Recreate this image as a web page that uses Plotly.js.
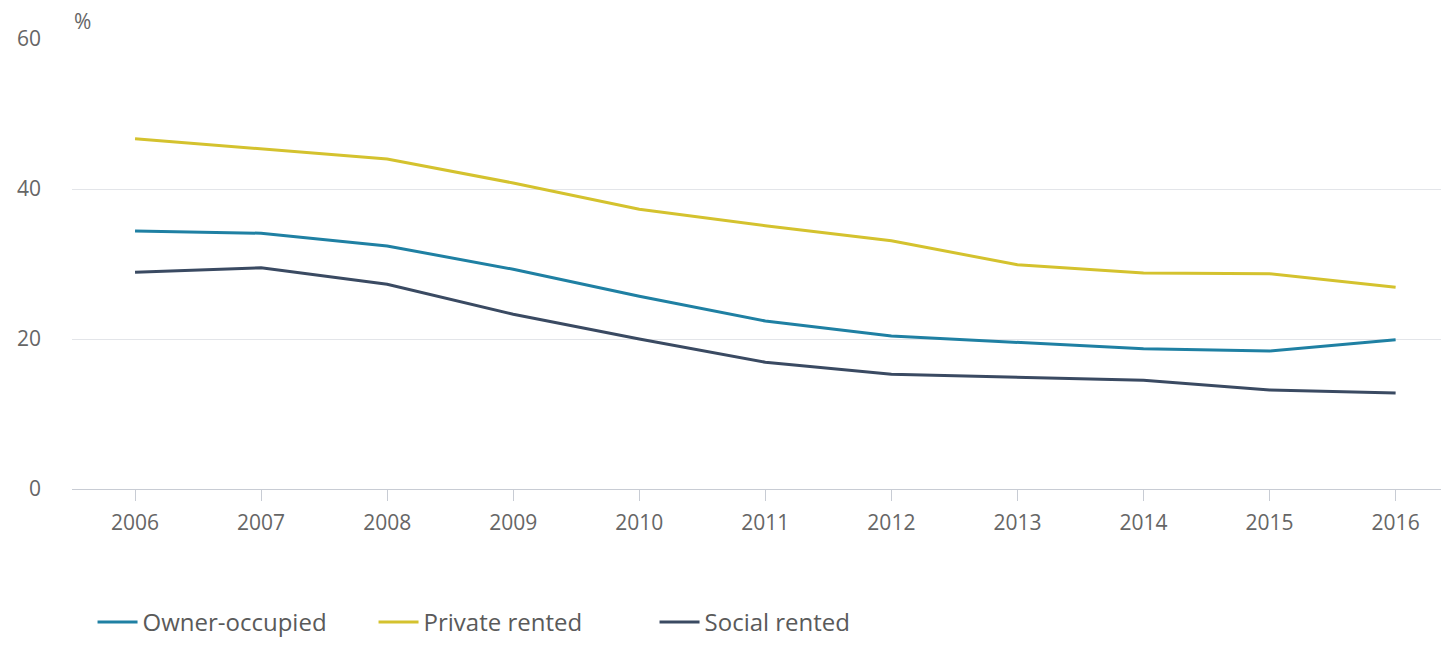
<!DOCTYPE html>
<html>
<head>
<meta charset="utf-8">
<script src="https://cdn.plot.ly/plotly-3.0.1.min.js"></script>
<style>
html,body{margin:0;padding:0;background:#fff;}
#chart{width:1441px;height:645px;}
</style>
</head>
<body>
<div id="chart"></div>
<script>
const years = [2006, 2007, 2008, 2009, 2010, 2011, 2012, 2013, 2014, 2015, 2016];
const ownerOccupied = [34.4, 34.1, 32.4, 29.3, 25.7, 22.4, 20.4, 19.5, 18.7, 18.4, 19.9];
const privateRented = [46.7, 45.4, 44.0, 40.8, 37.3, 35.1, 33.1, 29.9, 28.8, 28.7, 26.9];
const socialRented = [28.9, 29.5, 27.3, 23.3, 20.0, 16.9, 15.3, 14.9, 14.5, 13.2, 12.8];
const seriesNames = ["Owner-occupied", "Private rented", "Social rented"];
const yTicks = [0, 20, 40, 60];

const colors = ["#1f80a3", "#d4c22e", "#3a4a62"];
const allSeries = [ownerOccupied, privateRented, socialRented];

const traces = allSeries.map((vals, i) => ({
  x: years,
  y: vals,
  name: seriesNames[i],
  type: "scatter",
  mode: "lines",
  line: {color: colors[i], width: 3},
  hoverinfo: "x+y+name"
}));

const layout = {
  width: 1441,
  height: 645,
  margin: {l: 72, r: 0, t: 39, b: 156},
  paper_bgcolor: "#ffffff",
  plot_bgcolor: "#ffffff",
  font: {family: "Open Sans, sans-serif", color: "#666666", size: 20},
  showlegend: true,
  legend: {
    orientation: "h",
    x: 0.015, xanchor: "left",
    y: -0.3467, yanchor: "bottom",
    font: {size: 24, color: "#5a5a5a"},
    itemwidth: 40,
    entrywidth: 226,
    entrywidthmode: "pixels",
    traceorder: "normal",
    tracegroupgap: 0
  },
  xaxis: {
    range: [2005.5, 2016.36],
    tickvals: years,
    ticktext: years.map(String),
    showgrid: false,
    zeroline: false,
    showline: true,
    linecolor: "#c8ccd4",
    linewidth: 1,
    ticks: "outside",
    ticklen: 11,
    tickcolor: "#c8ccd4",
    ticklabelstandoff: 4,
    tickfont: {size: 21, color: "#666666"},
    fixedrange: true
  },
  yaxis: {
    range: [0, 60],
    tickvals: yTicks,
    ticktext: yTicks.map(String),
    showgrid: true,
    gridcolor: "#e3e5e9",
    gridwidth: 1,
    zeroline: false,
    showline: false,
    ticks: "",
    ticklabelstandoff: 30,
    tickfont: {size: 21, color: "#666666"},
    fixedrange: true
  },
  annotations: [{
    text: "%",
    xref: "paper", yref: "paper",
    x: 0, y: 1,
    xanchor: "left", yanchor: "bottom",
    xshift: 0, yshift: 2,
    showarrow: false,
    font: {size: 21, color: "#666666"}
  }]
};

Plotly.newPlot("chart", traces, layout, {displayModeBar: false, responsive: false});
</script>
</body>
</html>
